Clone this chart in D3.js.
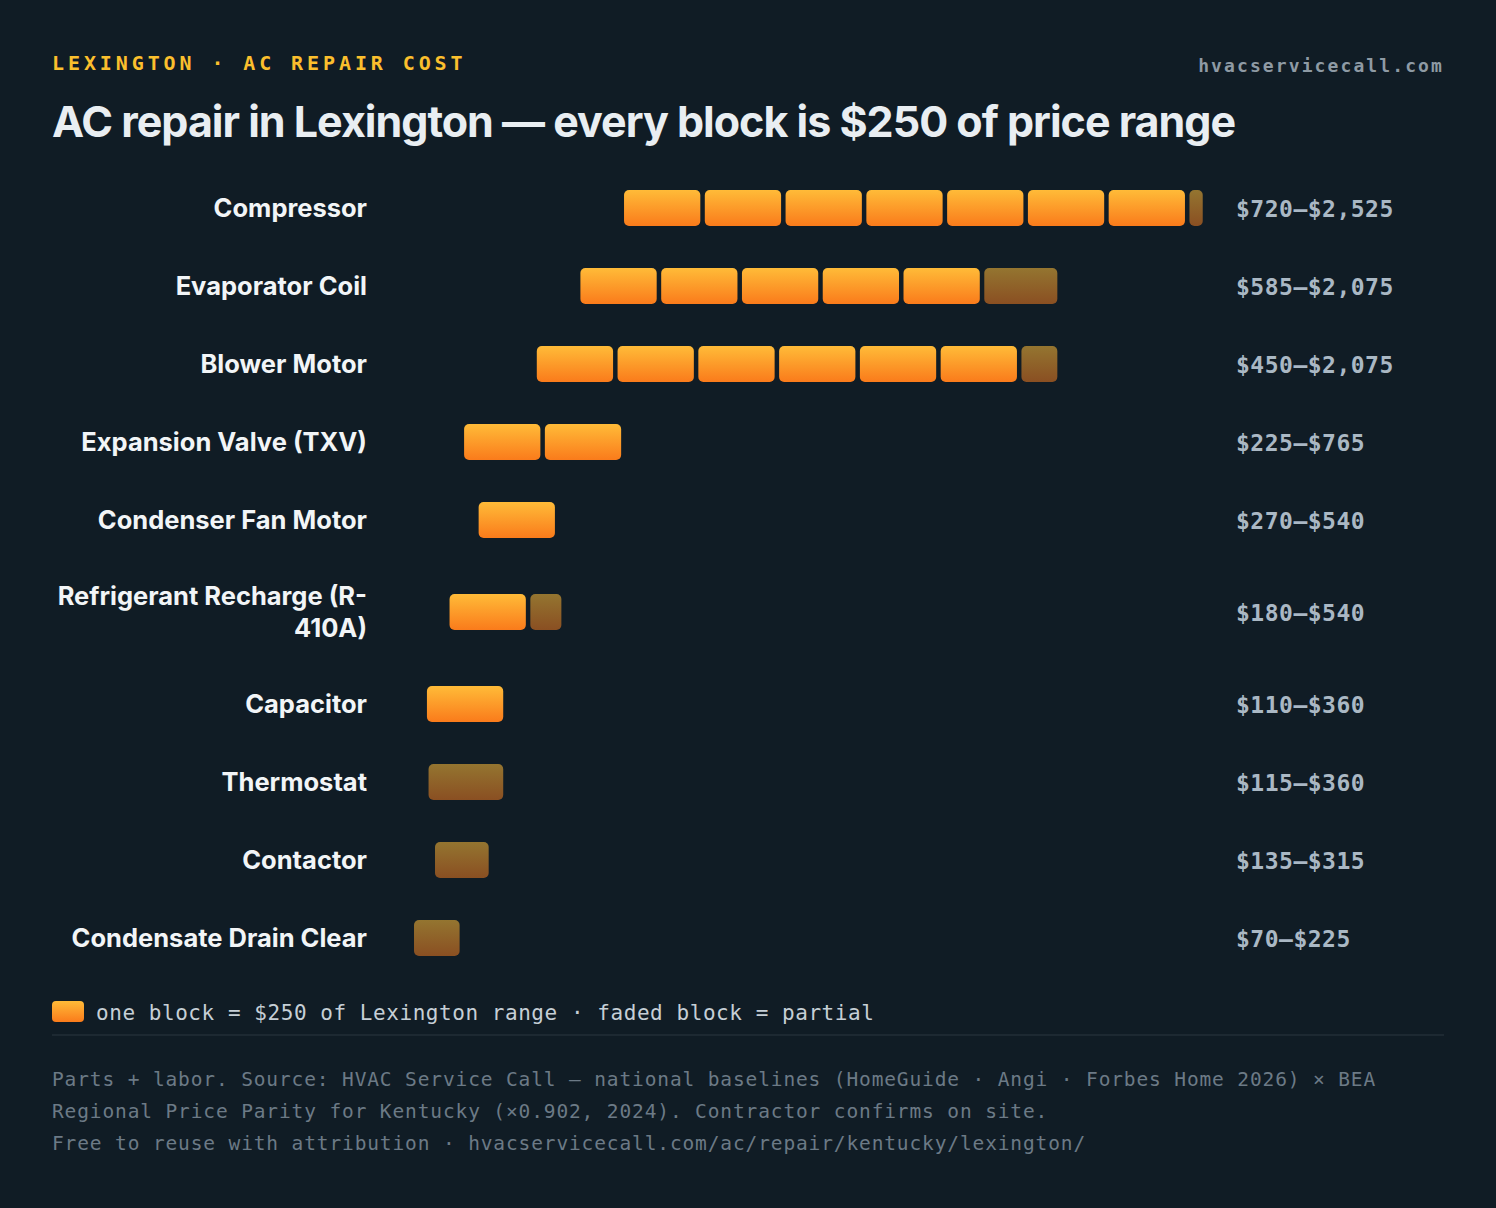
<!DOCTYPE html>
<html><head><meta charset="utf-8">
<script src="https://cdn.jsdelivr.net/npm/d3@7"></script>
<style>
body{margin:0;background:#101c25;}
</style></head><body>
<svg id="chart" width="1496" height="1208"></svg>
<script>
// repair items, low and high price in dollars
const items = ["Compressor", "Evaporator Coil", "Blower Motor", "Expansion Valve (TXV)", "Condenser Fan Motor",
  "Refrigerant Recharge (R-410A)", "Capacitor", "Thermostat", "Contactor", "Condensate Drain Clear"];
const lows = [720, 585, 450, 225, 270, 180, 110, 115, 135, 70];
const highs = [2525, 2075, 2075, 765, 540, 540, 360, 360, 315, 225];
const blockSize = 250;

const svg = d3.select("#chart");
const W = 1496, H = 1208;
svg.append("rect").attr("width", W).attr("height", H).attr("fill", "#101c25");

const defs = svg.append("defs");
function grad(id, top, bot) {
    const g = defs.append("linearGradient").attr("id", id).attr("x1", 0).attr("y1", 0).attr("x2", 0).attr("y2", 1);
    g.append("stop").attr("offset", "0%").attr("stop-color", top);
    g.append("stop").attr("offset", "100%").attr("stop-color", bot);
}
grad("full", "#ffbb38", "#fa7b1b");
grad("fade", "#947530", "#8a4f22");

const mono = "'DejaVu Sans Mono', monospace";

svg.append("text").attr("x", 52).attr("y", 70).text("LEXINGTON · AC REPAIR COST")
    .attr("fill", "#fbbf2d").attr("font-family", mono).attr("font-weight", "bold")
    .attr("font-size", 20).attr("letter-spacing", 3.9);
svg.append("text").attr("x", 1444).attr("y", 72).attr("text-anchor", "end").text("hvacservicecall.com")
    .attr("fill", "#8e9aa4").attr("font-family", mono).attr("font-weight", "bold").attr("font-size", 18).attr("letter-spacing", 2.1);
svg.append("text").attr("x", 52).attr("y", 137).text("AC repair in Lexington — every block is $250 of price range")
    .attr("fill", "#e9eef2").attr("font-family", "Inter, sans-serif").attr("font-weight", "bold")
    .attr("font-size", 43).attr("letter-spacing", -1.0);

const x = d3.scaleLinear().domain([0, 2525]).range([391.4, 391.4 + 2525 * 0.3231]);

// row centres: normal rows 78 apart, two-line label rows take 106
const rowH = items.map(d => d.length > 24 ? 106 : 78);
let acc = 208 - 39;
const centers = rowH.map(h => { const c = acc + h / 2; acc += h; return c; });

const barH = 36, gap = 4.5;
items.forEach((name, i) => {
    const g = svg.append("g");
    const cy = centers[i];
    const span = highs[i] - lows[i];
    const nFull = Math.floor(span / blockSize);
    const rem = span - nFull * blockSize;
    const blocks = [];
    for (let k = 0; k < nFull; k++) blocks.push({s: lows[i] + k * blockSize, w: blockSize, f: "full"});
    if (rem >= 50) blocks.push({s: lows[i] + nFull * blockSize, w: rem, f: "fade"});
    if (nFull === 0 && rem < 50) blocks.push({s: lows[i], w: rem, f: "fade"});
    g.selectAll("rect").data(blocks).enter().append("rect")
        .attr("x", d => x(d.s))
        .attr("width", d => Math.max(4, x(d.s + d.w) - x(d.s) - gap))
        .attr("y", cy - barH / 2).attr("height", barH)
        .attr("rx", 5).attr("fill", d => `url(#${d.f})`);

    const lab = g.append("text").attr("x", 367).attr("text-anchor", "end")
        .attr("fill", "#f2f5f7").attr("font-family", "Inter, sans-serif").attr("font-weight", "bold").attr("font-size", 25.5);
    if (name.length > 24) {
        lab.append("tspan").attr("x", 367).attr("y", cy - 7).text("Refrigerant Recharge (R-");
        lab.append("tspan").attr("x", 367).attr("y", cy + 25).text("410A)");
    } else {
        lab.attr("y", cy + 9).text(name);
    }
    g.append("text").attr("x", 1236).attr("y", cy + 9)
        .text(`$${d3.format(",")(lows[i])}–$${d3.format(",")(highs[i])}`)
        .attr("fill", "#aab8c4").attr("font-family", mono).attr("font-weight", "bold").attr("font-size", 23).attr("letter-spacing", 0.5);
});

// legend
svg.append("rect").attr("x", 52).attr("y", 1001).attr("width", 32).attr("height", 21).attr("rx", 4).attr("fill", "url(#full)");
svg.append("text").attr("x", 96).attr("y", 1020).text("one block = $250 of Lexington range · faded block = partial")
    .attr("fill", "#c6cfd6").attr("font-family", mono).attr("font-size", 21).attr("letter-spacing", 0.55);
svg.append("line").attr("x1", 52).attr("x2", 1444).attr("y1", 1035).attr("y2", 1035).attr("stroke", "#2a3640");

const notes = ["Parts + labor. Source: HVAC Service Call — national baselines (HomeGuide · Angi · Forbes Home 2026) × BEA",
    "Regional Price Parity for Kentucky (×0.902, 2024). Contractor confirms on site.",
    "Free to reuse with attribution · hvacservicecall.com/ac/repair/kentucky/lexington/"];
svg.selectAll(".note").data(notes).enter().append("text")
    .attr("x", 52).attr("y", (d, i) => 1086 + i * 32).text(d => d)
    .attr("fill", "#6c7a86").attr("font-family", mono).attr("font-size", 19.5).attr("letter-spacing", 0.87);
</script>
</body></html>
